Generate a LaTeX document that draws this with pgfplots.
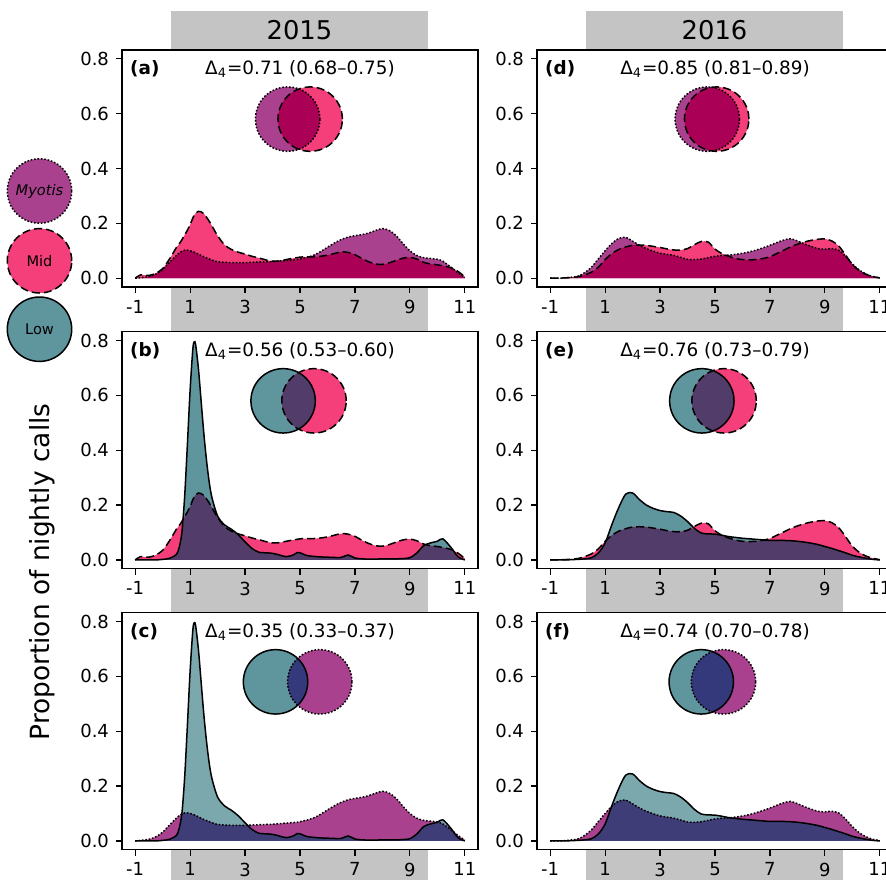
\documentclass[border=0pt]{standalone}
\usepackage{pgfplots}
\pgfplotsset{compat=1.18}
\usepackage{pgfplotstable}
\usepackage{fontspec}
\setmainfont{DejaVu Sans}
\definecolor{cMyo}{HTML}{A9418F}
\definecolor{cMid}{HTML}{F43F7A}
\definecolor{cLow}{HTML}{5F969E}
\definecolor{cLowL}{HTML}{7AA8AC}
\definecolor{oMM}{HTML}{AA0055}
\definecolor{oLM}{HTML}{523C69}
\definecolor{oLY}{HTML}{3F3D78}
\definecolor{oLYc}{HTML}{33397A}
\definecolor{stripgray}{HTML}{C4C4C4}

\pgfplotstableread{
x myo mid low
-1.00 0.000 0.000 0.000
-0.80 0.002 0.012 0.000
-0.50 0.006 0.010 0.000
-0.25 0.015 0.018 0.000
0.00 0.032 0.035 0.002
0.25 0.058 0.070 0.006
0.50 0.083 0.112 0.020
0.60 0.092 0.125 0.045
0.70 0.098 0.140 0.100
0.80 0.102 0.158 0.230
0.90 0.102 0.175 0.420
1.00 0.100 0.195 0.620
1.10 0.097 0.220 0.770
1.15 0.095 0.230 0.795
1.20 0.093 0.237 0.785
1.30 0.088 0.244 0.700
1.40 0.083 0.242 0.580
1.50 0.078 0.235 0.460
1.60 0.074 0.222 0.360
1.70 0.070 0.207 0.280
1.80 0.066 0.190 0.225
2.00 0.060 0.155 0.160
2.25 0.058 0.122 0.128
2.50 0.057 0.105 0.112
2.75 0.057 0.095 0.092
3.00 0.057 0.088 0.066
3.25 0.058 0.080 0.042
3.50 0.059 0.074 0.028
3.75 0.060 0.067 0.026
4.00 0.061 0.062 0.024
4.25 0.063 0.063 0.018
4.50 0.065 0.068 0.012
4.75 0.067 0.073 0.018
4.90 0.068 0.075 0.027
5.00 0.070 0.077 0.026
5.25 0.076 0.078 0.016
5.50 0.084 0.078 0.013
5.75 0.097 0.080 0.011
6.00 0.113 0.084 0.010
6.25 0.128 0.090 0.009
6.50 0.141 0.096 0.009
6.75 0.150 0.094 0.018
7.00 0.155 0.086 0.007
7.25 0.159 0.072 0.004
7.50 0.165 0.060 0.003
7.75 0.174 0.052 0.003
8.00 0.181 0.050 0.004
8.25 0.174 0.056 0.004
8.50 0.155 0.065 0.004
8.75 0.126 0.073 0.005
9.00 0.100 0.076 0.008
9.25 0.083 0.070 0.025
9.50 0.075 0.058 0.052
9.75 0.072 0.052 0.062
10.00 0.069 0.049 0.068
10.20 0.062 0.045 0.077
10.50 0.040 0.038 0.045
10.75 0.020 0.025 0.012
11.00 0.003 0.005 0.000
}\tabA

\pgfplotstableread{
x myo mid low
-1.00 0.000 0.000 0.000
-0.50 0.001 0.001 0.000
0.00 0.007 0.005 0.002
0.25 0.020 0.012 0.004
0.50 0.040 0.022 0.008
0.75 0.070 0.040 0.025
1.00 0.100 0.068 0.062
1.25 0.127 0.090 0.130
1.50 0.145 0.105 0.192
1.75 0.149 0.114 0.240
2.00 0.135 0.120 0.244
2.25 0.120 0.121 0.220
2.50 0.108 0.120 0.200
2.75 0.099 0.116 0.188
3.00 0.091 0.112 0.180
3.25 0.087 0.107 0.176
3.50 0.083 0.103 0.173
3.75 0.076 0.103 0.160
4.00 0.069 0.108 0.140
4.25 0.068 0.122 0.115
4.50 0.070 0.134 0.098
4.75 0.075 0.132 0.095
5.00 0.080 0.106 0.094
5.25 0.083 0.090 0.090
5.50 0.084 0.080 0.085
5.75 0.087 0.072 0.082
6.00 0.091 0.068 0.079
6.25 0.096 0.067 0.077
6.50 0.103 0.068 0.075
6.75 0.111 0.072 0.073
7.00 0.120 0.078 0.071
7.25 0.130 0.090 0.071
7.50 0.139 0.102 0.071
7.75 0.144 0.114 0.070
8.00 0.136 0.124 0.068
8.25 0.125 0.132 0.065
8.50 0.116 0.138 0.061
8.75 0.108 0.142 0.056
9.00 0.106 0.143 0.049
9.25 0.108 0.136 0.042
9.50 0.102 0.118 0.034
9.75 0.080 0.085 0.026
10.00 0.052 0.050 0.017
10.25 0.030 0.028 0.011
10.50 0.015 0.014 0.006
10.75 0.006 0.006 0.002
11.00 0.001 0.001 0.000
}\tabB

\tikzset{
  sMyo/.style={black, line width=0.75pt, dash pattern=on 0.8pt off 0.9pt},
  sMid/.style={black, line width=0.75pt, dash pattern=on 4pt off 2pt},
  sLow/.style={black, line width=0.75pt},
}
\pgfplotsset{panel/.style={
  width=178pt, height=118.5pt, scale only axis,
  anchor=north west,
  xmin=-1.48, xmax=11.48, ymin=-0.032, ymax=0.832,
  xtick={-1,1,3,5,7,9,11}, ytick={0,0.2,0.4,0.6,0.8},
  tick align=outside, major tick length=3pt, tick pos=left,
  axis line style={line width=0.7pt},
  every tick/.style={black, line width=0.6pt},
  tick label style={font=\fontsize{9}{10}\selectfont},
  /pgf/number format/assume math mode=true,
  yticklabel style={/pgf/number format/.cd,fixed,fixed zerofill,precision=1},
  axis background/.style={fill=white},
}}

\newcommand{\dens}[8]{%
  \addplot[draw=none, fill=#4, smooth] table[x=x,y=#2]{#1} \closedcycle;
  \addplot[draw=none, fill=#5, smooth] table[x=x,y=#3]{#1} \closedcycle;
  \addplot[draw=none, fill=#6, smooth] table[x=x,y expr={min(\thisrow{#2},\thisrow{#3})}]{#1} \closedcycle;
  \addplot[#7, smooth] table[x=x,y=#2]{#1};
  \addplot[#8, smooth] table[x=x,y=#3]{#1};
}
\newcommand{\venn}[7]{%
  \fill[#3] (#1) circle[radius=16.1pt];
  \fill[#4] (#2) circle[radius=16.1pt];
  \begin{scope}\clip (#1) circle[radius=16.1pt]; \fill[#5] (#2) circle[radius=16.1pt];\end{scope}
  \draw[#6] (#1) circle[radius=16.1pt];
  \draw[#7] (#2) circle[radius=16.1pt];
}
\newcommand{\plabel}[2]{%
  \node[anchor=west, inner sep=0pt, font=\bfseries\fontsize{9.2}{11}\selectfont] at (rel axis cs:0.022,0.92) {#1};
  \node[inner sep=0pt, font=\fontsize{9.2}{11}\selectfont] at (rel axis cs:0.5,0.92) {Δ\textsubscript{4}=#2};
}

\begin{document}
\begin{tikzpicture}
\clip (0,0) rectangle (443pt,-439.5pt);
\fill[stripgray] (85.5pt,-5.5pt) rectangle (214pt,-440pt);
\fill[stripgray] (293pt,-5.5pt) rectangle (421.5pt,-440pt);
\node[font=\fontsize{12.9}{14}\selectfont] at (149.75pt,-15.2pt) {2015};
\node[font=\fontsize{12.9}{14}\selectfont] at (357.25pt,-15.2pt) {2016};

% (a)
\begin{axis}[panel, at={(61pt,-25pt)}]
\dens{\tabA}{myo}{mid}{cMyo}{cMid}{oMM}{sMyo}{sMid}
\plabel{(a)}{0.71 (0.68–0.75)}
\coordinate (a1) at (axis cs:4.55,0.58);
\coordinate (a2) at (axis cs:5.37,0.58);
\end{axis}
\venn{a1}{a2}{cMyo}{cMid}{oMM}{sMyo}{sMid}

% (b)
\begin{axis}[panel, at={(61pt,-165.85pt)}]
\dens{\tabA}{low}{mid}{cLow}{cMid}{oLM}{sLow}{sMid}
\plabel{(b)}{0.56 (0.53–0.60)}
\coordinate (b1) at (axis cs:4.385,0.58);
\coordinate (b2) at (axis cs:5.51,0.58);
\end{axis}
\venn{b1}{b2}{cLow}{cMid}{oLM}{sLow}{sMid}

% (c)
\begin{axis}[panel, at={(61pt,-306.35pt)}]
\dens{\tabA}{low}{myo}{cLowL}{cMyo}{oLY}{sLow}{sMyo}
\plabel{(c)}{0.35 (0.33–0.37)}
\coordinate (c1) at (axis cs:4.11,0.58);
\coordinate (c2) at (axis cs:5.72,0.58);
\end{axis}
\venn{c1}{c2}{cLow}{cMyo}{oLYc}{sLow}{sMyo}

% (d)
\begin{axis}[panel, at={(268.5pt,-25pt)}]
\dens{\tabB}{myo}{mid}{cMyo}{cMid}{oMM}{sMyo}{sMid}
\plabel{(d)}{0.85 (0.81–0.89)}
\coordinate (d1) at (axis cs:4.72,0.58);
\coordinate (d2) at (axis cs:5.06,0.58);
\end{axis}
\venn{d1}{d2}{cMyo}{cMid}{oMM}{sMyo}{sMid}

% (e)
\begin{axis}[panel, at={(268.5pt,-165.85pt)}]
\dens{\tabB}{low}{mid}{cLow}{cMid}{oLM}{sLow}{sMid}
\plabel{(e)}{0.76 (0.73–0.79)}
\coordinate (e1) at (axis cs:4.52,0.58);
\coordinate (e2) at (axis cs:5.33,0.58);
\end{axis}
\venn{e1}{e2}{cLow}{cMid}{oLM}{sLow}{sMid}

% (f)
\begin{axis}[panel, at={(268.5pt,-306.35pt)}]
\dens{\tabB}{low}{myo}{cLowL}{cMyo}{oLY}{sLow}{sMyo}
\plabel{(f)}{0.74 (0.70–0.78)}
\coordinate (f1) at (axis cs:4.50,0.58);
\coordinate (f2) at (axis cs:5.31,0.58);
\end{axis}
\venn{f1}{f2}{cLow}{cMyo}{oLYc}{sLow}{sMyo}

% legend circles
\fill[cMyo] (19.75pt,-95.5pt) circle[radius=16.1pt];
\draw[sMyo] (19.75pt,-95.5pt) circle[radius=16.1pt];
\node[font=\itshape\fontsize{7.3}{9}\selectfont] at (19.75pt,-95.5pt) {Myotis};
\fill[cMid] (19.75pt,-130.4pt) circle[radius=16.1pt];
\draw[sMid] (19.75pt,-130.4pt) circle[radius=16.1pt];
\node[font=\fontsize{7.3}{9}\selectfont] at (19.75pt,-130.4pt) {Mid};
\fill[cLow] (19.75pt,-164.6pt) circle[radius=16.1pt];
\draw[sLow] (19.75pt,-164.6pt) circle[radius=16.1pt];
\node[font=\fontsize{7.3}{9}\selectfont] at (19.75pt,-164.6pt) {Low};

\node[rotate=90, font=\fontsize{13.2}{15}\selectfont] at (21pt,-286pt) {Proportion of nightly calls};
\end{tikzpicture}
\end{document}
